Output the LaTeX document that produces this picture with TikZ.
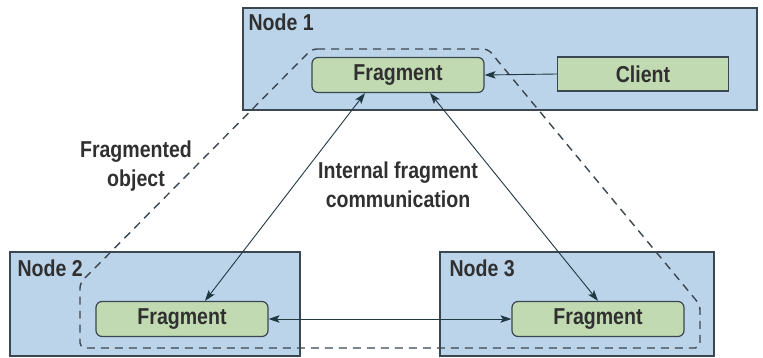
\documentclass[tikz,border=0pt]{standalone}
\usepackage{fontspec}
\setmainfont{Liberation Sans}[FakeStretch=0.85]
\usetikzlibrary{arrows.meta}

\definecolor{hostblue}{RGB}{187,212,234}
\definecolor{fraggreen}{RGB}{193,218,178}
\definecolor{edgegray}{RGB}{58,70,80}
\definecolor{wireteal}{RGB}{32,56,66}
\definecolor{inkgray}{RGB}{48,48,48}

\begin{document}
\begin{tikzpicture}[x=1pt, y=-1pt,
    txt/.style={text=inkgray, font=\bfseries\fontsize{23}{29}\selectfont},
    hostbox/.style={draw=edgegray, line width=1.3pt, fill=hostblue, inner sep=0pt},
    hostlabel/.style={txt, anchor=north west, inner sep=0pt},
    fragbox/.style={txt, draw=edgegray, line width=1.2pt, fill=fraggreen, rounded corners=6pt,
        minimum width=172pt, minimum height=35pt, inner sep=0pt},
    clientbox/.style={fragbox, rounded corners=0pt, minimum width=171pt, minimum height=34pt},
    fence/.style={draw=edgegray, line width=1.4pt, dash pattern=on 8pt off 6pt, rounded corners=5pt},
    link/.style={wireteal, line width=0.9pt, >={Stealth[length=11pt, width=7.5pt, inset=2.5pt]}}]
    \useasboundingbox (0,0) rectangle (763,358);

    % hosts
    \node[hostbox, minimum width=514pt, minimum height=102pt] (host1) at (500,59) {};
    \node[hostbox, minimum width=290pt, minimum height=104pt] (host2) at (155,304) {};
    \node[hostbox, minimum width=274pt, minimum height=104pt] (host3) at (577,304) {};
    \node[hostlabel] (lbl1) at ([shift={(6pt,-6pt)}]host1.north west) {Node 1};
    \node[hostlabel] (lbl2) at ([shift={(8pt,-8pt)}]host2.north west) {Node 2};
    \node[hostlabel] (lbl3) at ([shift={(10pt,-8pt)}]host3.north west) {Node 3};

    % the fragmented object
    \draw[fence] (312,49) -- (488,49) -- (700,305) -- (700,348) -- (80,348) -- (80,283) -- cycle;

    % fragments and client
    \node[fragbox] (fragA) at (398,75) {Fragment};
    \node[fragbox] (fragB) at (182,319) {Fragment};
    \node[fragbox] (fragC) at (598,319) {Fragment};
    \node[clientbox] (client) at (643,74) {Client};

    % communication
    \draw[link, ->] (client.west) -- (fragA.east);
    \draw[link, <->] ([xshift=-33pt]fragA.south) -- ([xshift=23pt]fragB.north);
    \draw[link, <->] ([xshift=32pt]fragA.south) -- (fragC.north);
    \draw[link, <->] (fragB.east) -- (fragC.west);

    % captions
    \node[txt, align=center] (objcap) at (136,166) {Fragmented\\object};
    \node[txt, align=center] (comcap) at (398,185) {Internal fragment\\communication};
\end{tikzpicture}
\end{document}
